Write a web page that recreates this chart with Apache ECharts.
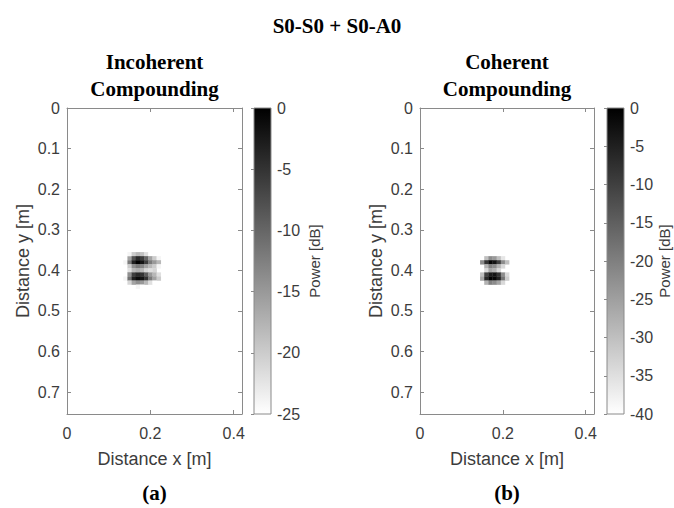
<!DOCTYPE html>
<html>
<head>
<meta charset="utf-8">
<script src="https://cdn.jsdelivr.net/npm/echarts@6/dist/echarts.min.js"></script>
<style>
  html, body { margin: 0; padding: 0; background: #fff; }
  #chart { width: 674px; height: 508px; }
</style>
</head>
<body>
<div id="chart"></div>
<script>
// Beamformed power maps (dB) of the two defect echoes, shown as grey-scale images.
const cellSize = 0.01;                       // pixel pitch of the image grid [m]
const xCols = [0.14, 0.15, 0.16, 0.17, 0.18, 0.19, 0.20, 0.21, 0.22, 0.23];
const yRows = [0.36, 0.37, 0.38, 0.39, 0.40, 0.41, 0.42, 0.43, 0.44];

// Incoherent compounding, dB (null = below display floor)
const incoherentDb = [
  [null, -24, -20, -18, -19, -22, -25, null, null, null],
  [-26, -16, -8, -4, -6, -10, -16, -20, -24, null],
  [-24, -12, -3, 0, -2, -6, -12, -15, -18, null],
  [null, -20, -14, -12, -13, -16, -18, -20, -24, null],
  [null, -22, -18, -17, -18, -21, -22, -21, null, null],
  [null, -14, -6, -4, -5, -9, -15, -18, -22, null],
  [-24, -11, -3, -1, -2, -5, -12, -16, -20, null],
  [null, -21, -16, -14, -15, -18, -22, -25, null, null],
  [null, null, null, -24, -25, null, null, null, null, null]
];

// Coherent compounding, dB
const coherentDb = [
  [null, null, null, null, null, null, null, null, null, null],
  [null, null, -30, -22, -24, -30, -36, null, null, null],
  [null, -22, -8, -1, -3, -10, -22, -30, null, null],
  [null, null, -28, -20, -22, -28, -34, null, null, null],
  [null, null, -34, -26, -28, -34, null, null, null, null],
  [null, -30, -10, -4, -3, -8, -22, -34, null, null],
  [null, -26, -6, 0, -1, -5, -18, -32, null, null],
  [null, null, -28, -20, -22, -26, -34, null, null, null],
  [null, null, null, null, null, null, null, null, null, null]
];

const xLimit = 0.42, yLimit = 0.754;
const xTickStep = 0.2, yTickStep = 0.1;
const incoherentRange = [-25, 0];
const coherentRange = [-40, 0];
const colorbarStep = 5;

const mainTitle = 'S0-S0 + S0-A0';
const panelTitles = ['Incoherent\nCompounding', 'Coherent\nCompounding'];
const panelTags = ['(a)', '(b)'];
const xName = 'Distance x [m]';
const yName = 'Distance y [m]';
const cbarName = 'Power [dB]';

function toTriples(matrix) {
  const out = [];
  matrix.forEach((row, r) => row.forEach((v, c) => {
    if (v !== null) out.push([xCols[c], yRows[r], v]);
  }));
  return out;
}

const SANS = 'Liberation Sans, Arial, sans-serif';
const SERIF = 'Liberation Serif, Times New Roman, serif';
const LINE = '#8a8a8a';
const TEXT = '#3c3c3c';

function onStep(v, step) {
  const k = v / step;
  return Math.abs(k - Math.round(k)) < 1e-6;
}
function tickFmt(step) {
  return v => onStep(v, step) ? String(+v.toFixed(2)) : '';
}

const panels = [
  { left: 67, width: 175, cbarLeft: 254, cbarGap: 36, range: incoherentRange, data: toTriples(incoherentDb) },
  { left: 420, width: 174, cbarLeft: 607, cbarGap: 33, range: coherentRange, data: toTriples(coherentDb) }
];
const TOP = 108, HEIGHT = 306;

const grid = [], xAxis = [], yAxis = [], series = [], visualMap = [], title = [];

title.push({
  text: mainTitle, left: 'center', top: 14, padding: 0,
  textStyle: { fontFamily: SERIF, fontWeight: 'bold', fontSize: 21, lineHeight: 24, color: '#000' }
});

panels.forEach((p, i) => {
  const g = grid.length;
  const cx = p.left + p.width / 2;
  title.push({
    text: panelTitles[i], left: cx, textAlign: 'center', top: 48, padding: 0,
    textStyle: { fontFamily: SERIF, fontWeight: 'bold', fontSize: 21, lineHeight: 27, color: '#000' }
  });
  title.push({
    text: panelTags[i], left: cx, textAlign: 'center', top: 481, padding: 0,
    textStyle: { fontFamily: SERIF, fontWeight: 'bold', fontSize: 21, lineHeight: 24, color: '#000' }
  });

  // image axes
  grid.push({ left: p.left, top: TOP, width: p.width, height: HEIGHT, outerBoundsMode: 'none' });
  // colour bar
  grid.push({ left: p.cbarLeft, top: TOP, width: 17, height: HEIGHT, outerBoundsMode: 'none' });

  const tick = { show: true, inside: true, length: 4, lineStyle: { color: LINE } };
  const line = { show: true, onZero: false, lineStyle: { color: LINE, width: 1 } };
  const xBase = { type: 'value', gridIndex: g, min: 0, max: xLimit, interval: xTickStep, splitLine: { show: false } };
  const yBase = { type: 'value', gridIndex: g, min: 0, max: yLimit, interval: yTickStep, inverse: true, splitLine: { show: false } };

  const xb = xAxis.length;
  xAxis.push(Object.assign({}, xBase, {
    position: 'bottom', axisLine: line, axisTick: tick,
    axisLabel: { formatter: tickFmt(xTickStep), fontFamily: SANS, fontSize: 16, color: TEXT, margin: 11 },
    name: xName, nameLocation: 'middle', nameGap: 36,
    nameTextStyle: { fontFamily: SANS, fontSize: 18, color: TEXT }
  }));
  xAxis.push(Object.assign({}, xBase, {
    position: 'top', axisLine: line, axisTick: tick, axisLabel: { show: false }
  }));
  const yb = yAxis.length;
  yAxis.push(Object.assign({}, yBase, {
    position: 'left', axisLine: line, axisTick: tick,
    axisLabel: { formatter: tickFmt(yTickStep), fontFamily: SANS, fontSize: 16, color: TEXT, margin: 7 },
    name: yName, nameLocation: 'middle', nameGap: 35, nameRotate: 90,
    nameTextStyle: { fontFamily: SANS, fontSize: 18, color: TEXT }
  }));
  yAxis.push(Object.assign({}, yBase, {
    position: 'right', axisLine: line, axisTick: tick, axisLabel: { show: false }
  }));

  const xc = xAxis.length;
  xAxis.push({ type: 'value', gridIndex: g + 1, min: 0, max: 1, show: false });
  const yc = yAxis.length;
  yAxis.push({
    type: 'value', gridIndex: g + 1, min: p.range[0], max: p.range[1], interval: colorbarStep,
    position: 'right', splitLine: { show: false },
    axisLine: { show: false },
    axisTick: { show: true, inside: true, length: 3, lineStyle: { color: LINE } },
    axisLabel: { fontFamily: SANS, fontSize: 16, color: TEXT, margin: 6 },
    name: cbarName, nameLocation: 'middle', nameGap: p.cbarGap, nameRotate: 90,
    nameTextStyle: { fontFamily: SANS, fontSize: 15, color: TEXT }
  });

  const sIdx = series.length;
  series.push({
    type: 'custom', xAxisIndex: xb, yAxisIndex: yb, clip: true,
    encode: { x: 0, y: 1 },
    data: p.data,
    renderItem: (params, api) => {
      const c = api.coord([api.value(0), api.value(1)]);
      const s = api.size([cellSize, cellSize]);
      return {
        type: 'rect',
        shape: { x: c[0] - s[0] / 2, y: c[1] - s[1] / 2, width: s[0] + 0.3, height: s[1] + 0.3 },
        style: { fill: api.visual('color') }
      };
    }
  });
  visualMap.push({
    type: 'continuous', show: false, seriesIndex: sIdx, dimension: 2,
    min: p.range[0], max: p.range[1], inRange: { color: ['#ffffff', '#000000'] }
  });

  // colour bar strip: black at 0 dB down to white at the display floor
  series.push({
    type: 'custom', xAxisIndex: xc, yAxisIndex: yc, silent: true,
    data: [[0, p.range[1], 1, p.range[0]]],
    renderItem: (params, api) => {
      const a = api.coord([api.value(0), api.value(1)]);
      const b = api.coord([api.value(2), api.value(3)]);
      return {
        type: 'rect',
        shape: { x: a[0], y: a[1], width: b[0] - a[0], height: b[1] - a[1] },
        style: {
          fill: new echarts.graphic.LinearGradient(0, 0, 0, 1, [
            { offset: 0, color: '#000000' }, { offset: 1, color: '#ffffff' }
          ]),
          stroke: LINE, lineWidth: 1
        }
      };
    }
  });
});

const chart = echarts.init(document.getElementById('chart'), null, { renderer: 'svg' });
chart.setOption({
  animation: false,
  backgroundColor: '#ffffff',
  title, grid, xAxis, yAxis, series, visualMap
});
</script>
</body>
</html>
